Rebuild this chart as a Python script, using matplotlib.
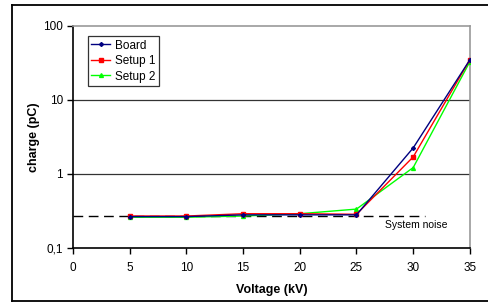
import matplotlib
matplotlib.use('Agg')
import matplotlib.pyplot as plt
from matplotlib.lines import Line2D
from matplotlib.ticker import FixedLocator, NullLocator

plt.rcParams['font.family'] = ['Liberation Sans', 'DejaVu Sans']

# Data
voltage = [5, 10, 15, 20, 25, 30, 35]
board = [0.265, 0.265, 0.28, 0.28, 0.28, 2.25, 35]
setup1 = [0.27, 0.27, 0.29, 0.29, 0.285, 1.7, 35]
setup2 = [0.26, 0.26, 0.27, 0.29, 0.335, 1.22, 33]
noise_level = 0.27
noise_x = [0, 31]

y_ticks = [0.1, 1, 10, 100]
y_labels = ['0,1', '1', '10', '100']
x_ticks = [0, 5, 10, 15, 20, 25, 30, 35]

fig = plt.figure(figsize=(4.89, 3.02), dpi=100)
ax = fig.add_axes([0.149, 0.179, 0.812, 0.735])

# outer chart frame (left, top, bottom)
frame_kw = dict(color='black', lw=1.3, transform=fig.transFigure, clip_on=False)
fig.add_artist(Line2D([0.025, 0.025], [0.004, 0.983], **frame_kw))
fig.add_artist(Line2D([0.025, 1.0], [0.983, 0.983], **frame_kw))
fig.add_artist(Line2D([0.025, 1.0], [0.004, 0.004], **frame_kw))

ax.set_yscale('log')
ax.set_ylim(0.1, 100)
ax.set_xlim(0, 35)

for y in [1, 10]:
    ax.axhline(y, color='#333333', lw=0.9, zorder=1)

ax.plot(noise_x, [noise_level, noise_level], color='black', lw=1.0,
        dashes=(7, 4), zorder=2)
ax.text(27.5, 0.205, 'System noise', fontsize=7.5, va='center', ha='left')

ax.plot(voltage, board, color='#000080', marker='D', ms=2, lw=1.0,
        label='Board', zorder=5)
ax.plot(voltage, setup1, color='#ff0000', marker='s', ms=3.2, lw=1.0,
        label='Setup 1', zorder=4)
ax.plot(voltage, setup2, color='#00ff00', marker='^', ms=2.8, lw=1.0,
        label='Setup 2', zorder=3)

ax.yaxis.set_major_locator(FixedLocator(y_ticks))
ax.yaxis.set_minor_locator(NullLocator())
ax.set_yticklabels(y_labels)
ax.set_xticks(x_ticks)

ax.tick_params(axis='both', labelsize=8.5, direction='out', length=4,
               width=1.0, color='black')
ax.tick_params(axis='y', pad=3)
ax.tick_params(axis='x', pad=6)

for side in ['left', 'bottom']:
    ax.spines[side].set_color('black')
    ax.spines[side].set_linewidth(1.2)
for side in ['right', 'top']:
    ax.spines[side].set_color('#999999')
    ax.spines[side].set_linewidth(1.2)

ax.set_xlabel('Voltage (kV)', fontsize=9, fontweight='bold', labelpad=7)
ax.set_ylabel('charge (pC)', fontsize=9, fontweight='bold', labelpad=2)

leg = ax.legend(loc='upper left', bbox_to_anchor=(0.038, 0.955), fontsize=8.5,
                frameon=True, fancybox=False, edgecolor='black',
                handlelength=1.6, handletextpad=0.35, borderpad=0.3,
                labelspacing=0.3, borderaxespad=0)
leg.get_frame().set_linewidth(0.9)

fig.savefig('out.png', dpi=100)
